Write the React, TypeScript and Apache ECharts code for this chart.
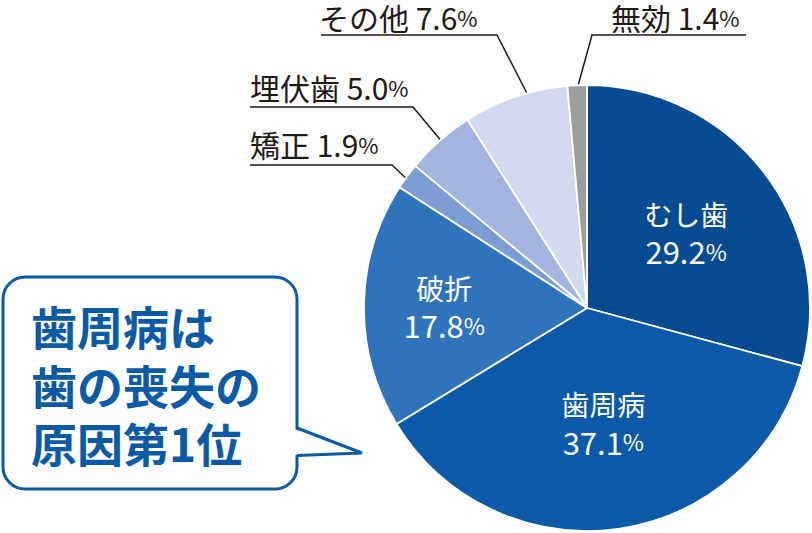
import React, { useEffect, useRef } from "react";
import * as echarts from "echarts";

// ---- data ----
const categories = ["むし歯", "歯周病", "破折", "矯正", "埋伏歯", "その他", "無効"];
const values = [29.2, 37.1, 17.8, 1.9, 5.0, 7.6, 1.4];
const valueLabels = ["29.2", "37.1", "17.8", "1.9", "5.0", "7.6", "1.4"];
const calloutLines = ["歯周病は", "歯の喪失の", "原因第1位"];

// ---- styles / layout ----
const colors = ["#044b92", "#0a5aa9", "#2f74bb", "#7c9dd3", "#a2b5de", "#d3d9ef", "#9c9e9d"];
const insideFlags = [true, true, true, false, false, false, false];
const insideRadiusFrac = [0.56, 0.52, 0.64, 0, 0, 0, 0];
// outside label anchors: [textLeft, textMiddleY], leader: [inside end, elbow, far end]
const outsideText: Record<number, [number, number]> = {
  3: [250, 144],
  4: [250, 87],
  5: [319, 17],
  6: [611, 17],
};
const outsideLeader: Record<number, number[][]> = {
  3: [[413, 185], [392, 165], [250, 165]],
  4: [[443, 143], [413, 107], [250, 107]],
  5: [[533, 105], [497, 35], [321, 35]],
  6: [[576, 93], [592, 35], [746, 35]],
};
const calloutTop = [302, 361, 419];
const CX = 587;
const CY = 308;
const R = 223;
const FONT = "'Noto Sans CJK JP', 'Noto Sans', sans-serif";

export default function App() {
  const ref = useRef<HTMLDivElement>(null);
  useEffect(() => {
    if (!ref.current) return;
    const chart = echarts.init(ref.current, undefined, { renderer: "svg" });
    const total = values.reduce((a, b) => a + b, 0);
    const midAngles: number[] = [];
    let acc = 0;
    values.forEach((v) => {
      midAngles.push(((acc + v / 2) / total) * Math.PI * 2);
      acc += v;
    });

    const data = categories.map((name, i) => {
      const inside = insideFlags[i];
      return {
        name,
        value: values[i],
        itemStyle: { color: colors[i] },
        label: inside
          ? {
              position: "inside",
              formatter: `{n|${name}}\n{d|${valueLabels[i]}}{p|%}`,
              rich: {
                n: { color: "#fff", fontSize: 28, fontFamily: FONT, lineHeight: 37 },
                d: { color: "#fff", fontSize: 31, fontFamily: FONT, lineHeight: 37 },
                p: { color: "#fff", fontSize: 23, fontFamily: FONT, lineHeight: 37 },
              },
            }
          : {
              position: "outside",
              formatter: `{n|${name} }{d|${valueLabels[i]}}{p|%}`,
              rich: {
                n: { color: "#231815", fontSize: 30, fontFamily: FONT, lineHeight: 30 },
                d: { color: "#231815", fontSize: 30, fontFamily: FONT, lineHeight: 30 },
                p: { color: "#231815", fontSize: 22, fontFamily: FONT, lineHeight: 30 },
              },
            },
        labelLine: inside
          ? { show: false }
          : { show: true, lineStyle: { color: "#231815", width: 1.5 } },
      };
    });

    chart.setOption({
      animation: false,
      backgroundColor: "#ffffff",
      series: [
        {
          type: "pie",
          center: [CX, CY],
          radius: [0, R],
          startAngle: 90,
          clockwise: true,
          avoidLabelOverlap: false,
          itemStyle: { borderColor: "#ffffff", borderWidth: 1.8 },
          emphasis: { disabled: true },
          data,
          labelLayout: (params: any) => {
            const i = params.dataIndex;
            if (insideFlags[i]) {
              const a = midAngles[i];
              const r = insideRadiusFrac[i] * R;
              return {
                x: CX + r * Math.sin(a),
                y: CY - r * Math.cos(a),
                align: "center",
                verticalAlign: "middle",
              };
            }
            const t = outsideText[i];
            return {
              x: t[0],
              y: t[1],
              align: "left",
              verticalAlign: "middle",
              labelLinePoints: outsideLeader[i],
            };
          },
        },
      ],
      graphic: [
        {
          type: "rect",
          shape: { x: 3, y: 277, width: 294, height: 212, r: 22 },
          style: { fill: "#ffffff", stroke: "#0b5aa6", lineWidth: 3 },
          z: 10,
        },
        {
          type: "polygon",
          shape: { points: [[294, 429], [362, 453], [294, 455]] },
          style: { fill: "#ffffff", stroke: "none" },
          z: 11,
        },
        {
          type: "polyline",
          shape: { points: [[297, 428], [362, 453], [297, 455.5]] },
          style: { fill: "none", stroke: "#0b5aa6", lineWidth: 3, lineJoin: "miter" },
          z: 12,
        },
        ...calloutLines.map((line, k) => ({
          type: "text",
          x: 31,
          y: calloutTop[k],
          z: 13,
          style: {
            text: line,
            fill: "#0b5aa6",
            font: `bold 46px ${FONT}`,
            textVerticalAlign: "top",
          },
        })),
      ],
    });
    return () => chart.dispose();
  }, []);
  return (
    <div
      ref={ref}
      style={{ position: "fixed", left: 0, top: 0, width: 812, height: 533 }}
    />
  );
}
